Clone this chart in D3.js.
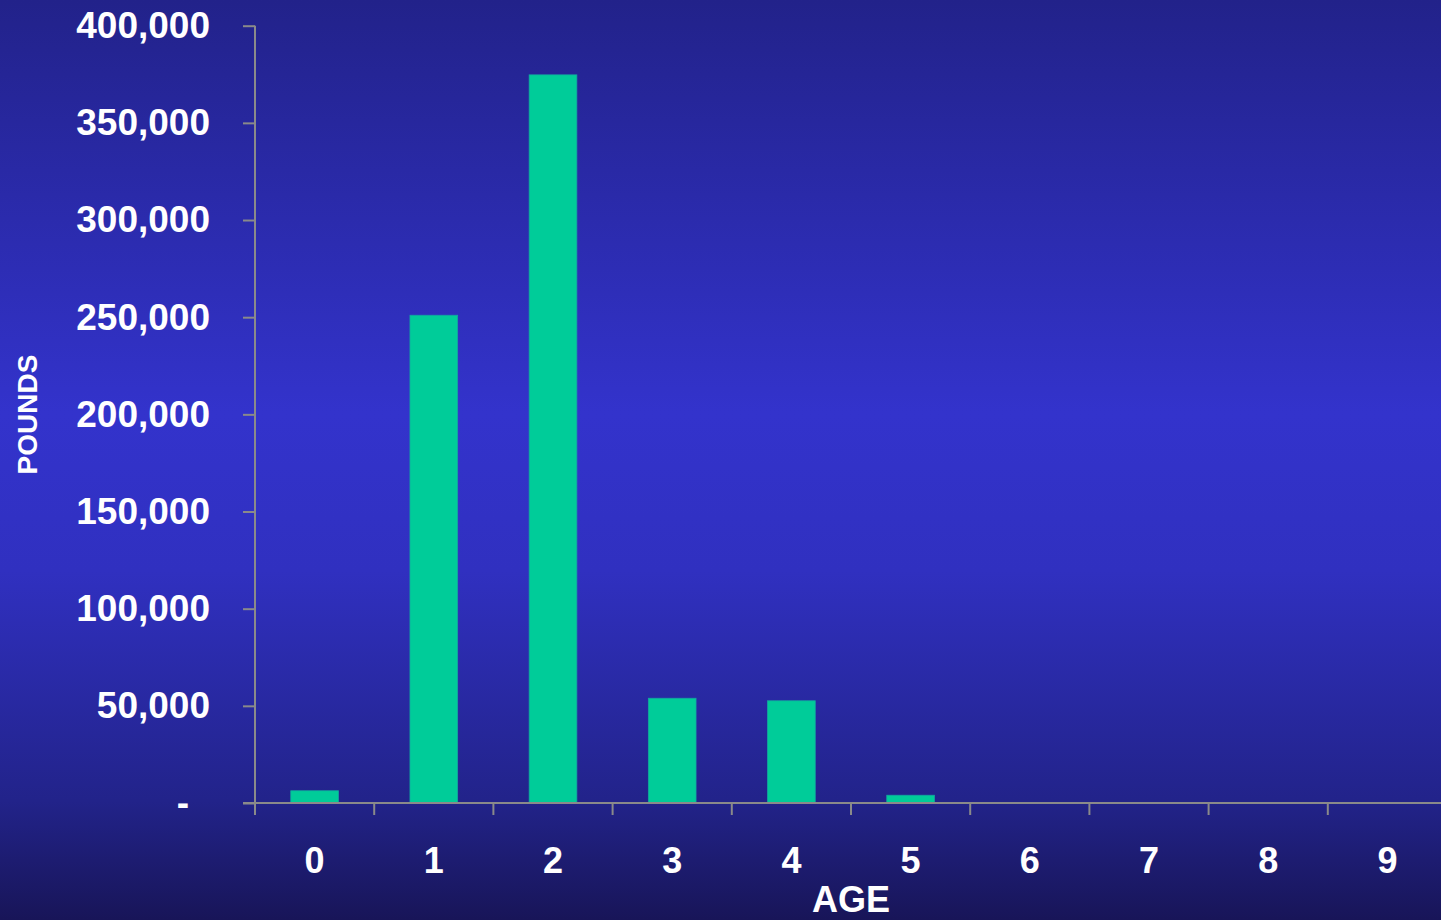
<!DOCTYPE html>
<html>
<head>
<meta charset="utf-8">
<script src="https://cdn.jsdelivr.net/npm/d3@7"></script>
<style>
  html, body { margin: 0; padding: 0; overflow: hidden; }
  svg { display: block; }
</style>
</head>
<body>
<svg id="chart" width="1441" height="920"></svg>
<script>
// Landings by age (pounds)
const ages = ["0", "1", "2", "3", "4", "5", "6", "7", "8", "9"];
const pounds = [6300, 251000, 374700, 53900, 52600, 4000, 0, 0, 0, 0];
const yTicks = [0, 50000, 100000, 150000, 200000, 250000, 300000, 350000, 400000];

const svg = d3.select("#chart");
const W = 1441, H = 920;
const FONT = "'Liberation Sans', Arial, Helvetica, sans-serif";

// background gradient
const defs = svg.append("defs");
const grad = defs.append("linearGradient").attr("id", "bg")
  .attr("x1", 0).attr("y1", 0).attr("x2", 0).attr("y2", 1);
[[0, "#22228a"], [0.45, "#3333cc"], [0.62, "#3030c0"], [0.87, "#22238a"], [1, "#181558"]]
  .forEach(([o, c]) => grad.append("stop").attr("offset", o).attr("stop-color", c));
svg.append("rect").attr("width", W).attr("height", H).attr("fill", "url(#bg)");

const left = 255, step = 119.2;
const x = d3.scaleBand().domain(ages).range([left, left + step * ages.length]).padding(0);
const y = d3.scaleLinear().domain([0, 400000]).range([803, 25.7]);

const axisColor = "#8a8a8a";

// bars
const barW = x.bandwidth() * 0.4;
svg.append("g").selectAll("rect").data(ages).join("rect")
  .attr("x", (d) => x(d) + (x.bandwidth() - barW) / 2)
  .attr("y", (d, i) => y(pounds[i]))
  .attr("width", barW)
  .attr("height", (d, i) => y(0) - y(pounds[i]))
  .attr("fill", "#00cc99")
  .attr("stroke", (d, i) => pounds[i] > 0 ? "#14a6a0" : "none")
  .attr("stroke-width", 0.8);

// y axis
const yAxis = svg.append("g").attr("transform", `translate(${left},0)`)
  .call(d3.axisLeft(y).tickValues(yTicks).tickSize(12).tickPadding(33)
    .tickFormat((d) => d === 0 ? "-" : d3.format(",")(d)));
yAxis.select(".domain").remove();
yAxis.append("line").attr("x1", 0).attr("x2", 0)
  .attr("y1", y(400000)).attr("y2", y(0)).attr("stroke", axisColor).attr("stroke-width", 2);
yAxis.selectAll(".tick line").attr("stroke", axisColor).attr("stroke-width", 2);
yAxis.selectAll(".tick text")
  .attr("fill", "#ffffff").attr("font-family", FONT).attr("font-weight", "bold")
  .attr("font-size", 37)
  .attr("dx", (d) => d === 0 ? -21 : 0);

// x axis
const xAxis = svg.append("g").attr("transform", `translate(0,${y(0)})`);
xAxis.append("line").attr("x1", left - 12).attr("x2", W)
  .attr("stroke", axisColor).attr("stroke-width", 2);
xAxis.selectAll("line.tk").data(ages).join("line").attr("class", "tk")
  .attr("x1", (d) => x(d)).attr("x2", (d) => x(d))
  .attr("y1", 0).attr("y2", 12)
  .attr("stroke", axisColor).attr("stroke-width", 2);
xAxis.selectAll("text").data(ages).join("text")
  .attr("x", (d) => x(d) + x.bandwidth() / 2)
  .attr("y", 70)
  .attr("text-anchor", "middle")
  .attr("fill", "#ffffff").attr("font-family", FONT).attr("font-weight", "bold")
  .attr("font-size", 36)
  .text((d) => d);

// axis titles
svg.append("text")
  .attr("x", (x.range()[0] + x.range()[1]) / 2).attr("y", 912)
  .attr("text-anchor", "middle")
  .attr("fill", "#ffffff").attr("font-family", FONT).attr("font-weight", "bold")
  .attr("font-size", 36)
  .text("AGE");

svg.append("text")
  .attr("transform", "translate(37,414.5) rotate(-90)")
  .attr("text-anchor", "middle")
  .attr("fill", "#ffffff").attr("font-family", FONT).attr("font-weight", "bold")
  .attr("font-size", 28)
  .text("POUNDS");
</script>
</body>
</html>
